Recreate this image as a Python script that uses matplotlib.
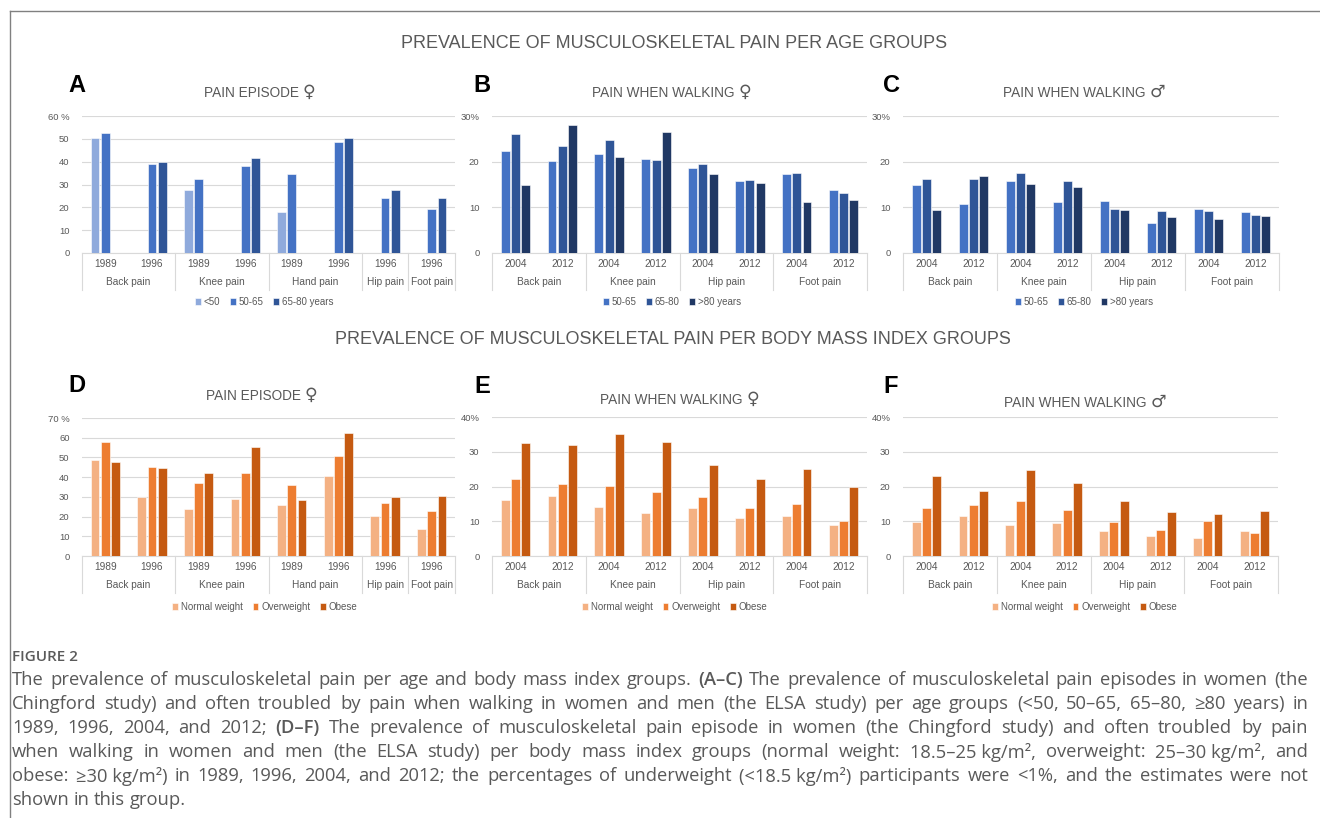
import numpy as np
import matplotlib
matplotlib.use('Agg')
import matplotlib.pyplot as plt
from matplotlib.lines import Line2D

plt.rcParams['font.family'] = ['Liberation Sans', 'DejaVu Sans']

nan = np.nan
W, H = 1320, 818

# ---- data (percent) ----
years_ad = ['1989', '1996', '1989', '1996', '1989', '1996', '1996', '1996']
groups_ad = [('Back pain', 2), ('Knee pain', 2), ('Hand pain', 2), ('Hip pain', 1), ('Foot pain', 1)]
years_bc = ['2004', '2012', '2004', '2012', '2004', '2012', '2004', '2012']
groups_bc = [('Back pain', 2), ('Knee pain', 2), ('Hip pain', 2), ('Foot pain', 2)]

age_a = ['<50', '50-65', '65-80 years']
a_lt50 = [50.2, nan, 27.5, nan, 18.1, nan, nan, nan]
a_50_65 = [52.4, 38.8, 32.2, 38.3, 34.7, 48.7, 24.0, 19.3]
a_65_80 = [nan, 39.8, nan, 41.4, nan, 50.2, 27.8, 24.0]

age_bc = ['50-65', '65-80', '>80 years']
b_50_65 = [22.3, 20.1, 21.6, 20.6, 18.6, 15.8, 17.3, 13.8]
b_65_80 = [26.0, 23.5, 24.8, 20.3, 19.4, 15.9, 17.6, 13.1]
b_80 = [14.8, 28.0, 21.0, 26.6, 17.3, 15.4, 11.1, 11.6]

c_50_65 = [15.0, 10.7, 15.7, 11.2, 11.4, 6.6, 9.7, 8.9]
c_65_80 = [16.2, 16.1, 17.6, 15.7, 9.7, 9.3, 9.3, 8.4]
c_80 = [9.5, 16.8, 15.1, 14.5, 9.4, 7.9, 7.5, 8.2]

bmi = ['Normal weight', 'Overweight', 'Obese']
d_norm = [48.6, 29.8, 23.6, 28.8, 25.8, 40.8, 20.5, 13.6]
d_over = [58.0, 45.1, 36.9, 42.0, 35.9, 50.5, 26.8, 22.9]
d_obese = [47.6, 44.7, 41.9, 55.3, 28.5, 62.5, 29.8, 30.3]

e_norm = [16.1, 17.3, 14.0, 12.5, 13.7, 10.8, 11.6, 8.8]
e_over = [22.1, 20.7, 20.1, 18.4, 17.0, 13.8, 15.1, 10.1]
e_obese = [32.4, 32.0, 35.2, 32.7, 26.3, 22.1, 25.1, 20.0]

f_norm = [9.8, 11.4, 8.8, 9.5, 7.3, 5.7, 5.1, 7.2]
f_over = [13.8, 14.6, 15.7, 13.3, 9.7, 7.5, 10.1, 6.5]
f_obese = [23.1, 18.8, 24.8, 21.0, 15.9, 12.6, 12.0, 12.9]

blues_a = ['#8faadc', '#4472c4', '#2f5597']
blues_bc = ['#4472c4', '#2f5597', '#203864']
oranges = ['#f4b183', '#ed7d31', '#c55a11']

TXT = '#595959'
GRID = '#d9d9d9'

fig = plt.figure(figsize=(W / 100, H / 100), dpi=100)
renderer = fig.canvas.get_renderer()


def fx(px):
    return px / W


def fy(py):
    return 1 - py / H


def title_with_symbol(cx, cy, text, sym):
    # text in Arial-like font, gender sign larger in DejaVu
    t = fig.text(0, fy(cy), text + ' ', fontsize=9.8, ha='left', va='center', color=TXT)
    s = fig.text(0, fy(cy - 1), sym, fontsize=12.5, family='DejaVu Sans',
                 ha='left', va='center', color=TXT)
    wt = t.get_window_extent(renderer).width
    ws = s.get_window_extent(renderer).width
    left = cx - (wt + ws) / 2
    t.set_x(fx(left))
    s.set_x(fx(left + wt))


def panel(box, series, names, colors, years, groups, ymax, top_label,
          letter, letter_xy, title, sym, title_xy, legend_xy):
    l, t, r, b = box
    ax = fig.add_axes([fx(l), fy(b), (r - l) / W, (b - t) / H])
    hpx = b - t
    x = np.arange(len(years))
    bars = []
    for k, (vals, col) in enumerate(zip(series, colors)):
        bars.append(ax.bar(x + (k - 1) * 0.22, vals, width=0.19, color=col,
                           edgecolor='white', linewidth=0.4, zorder=3))
    ax.set_xlim(-0.5, len(years) - 0.5)
    ax.set_ylim(0, ymax)
    ticks = list(range(0, ymax + 1, 10))
    ax.set_yticks(ticks)
    ax.set_yticklabels([str(v) for v in ticks[:-1]] + [top_label])
    ax.tick_params(axis='y', length=0, pad=9, labelsize=6.8, labelcolor=TXT)
    ax.set_xticks([])
    ax.yaxis.grid(True, color=GRID, linewidth=0.8, zorder=0)
    for s in ['top', 'right', 'left']:
        ax.spines[s].set_visible(False)
    ax.spines['bottom'].set_color(GRID)
    ax.spines['bottom'].set_linewidth(0.8)

    tr = ax.get_xaxis_transform()
    for i, yr in enumerate(years):
        ax.text(i, -11 / hpx, yr, transform=tr, ha='center', va='center',
                fontsize=7.3, color=TXT)
    pos = -0.5
    ax.plot([pos, pos], [0, -37 / hpx], transform=tr, clip_on=False,
            color=GRID, lw=0.8)
    for name, n in groups:
        ax.text(pos + n / 2, -29 / hpx, name, transform=tr, ha='center',
                va='center', fontsize=7.3, color=TXT)
        pos += n
        ax.plot([pos, pos], [0, -37 / hpx], transform=tr, clip_on=False,
                color=GRID, lw=0.8)

    fig.text(fx(letter_xy[0]), fy(letter_xy[1]), letter, fontsize=17,
             fontweight='bold', ha='center', va='center', color='black')
    title_with_symbol(title_xy[0], title_xy[1], title, sym)
    fig.legend(bars, names, loc='center', bbox_to_anchor=(fx(legend_xy[0]), fy(legend_xy[1])),
               ncol=3, frameon=False, fontsize=7, labelcolor=TXT,
               handlelength=0.6, handleheight=0.6, handletextpad=0.3,
               columnspacing=1.0, borderpad=0)
    return ax


panel((82, 116, 455, 253), [a_lt50, a_50_65, a_65_80], age_a, blues_a,
      years_ad, groups_ad, 60, '60 %', 'A', (77, 85), 'PAIN EPISODE', '\u2640', (260, 93), (264, 302))
panel((492, 116, 867, 253), [b_50_65, b_65_80, b_80], age_bc, blues_bc,
      years_bc, groups_bc, 30, '30%', 'B', (482, 85), 'PAIN WHEN WALKING', '\u2640', (672, 93), (672, 302))
panel((903, 116, 1279, 253), [c_50_65, c_65_80, c_80], age_bc, blues_bc,
      years_bc, groups_bc, 30, '30%', 'C', (891, 85), 'PAIN WHEN WALKING', '\u2642', (1084, 93), (1084, 302))
panel((82, 418, 455, 556), [d_norm, d_over, d_obese], bmi, oranges,
      years_ad, groups_ad, 70, '70 %', 'D', (77, 385), 'PAIN EPISODE', '\u2640', (262, 396), (265, 607))
panel((492, 417, 867, 556), [e_norm, e_over, e_obese], bmi, oranges,
      years_bc, groups_bc, 40, '40%', 'E', (482, 387), 'PAIN WHEN WALKING', '\u2640', (680, 400), (675, 607))
panel((903, 417, 1278, 556), [f_norm, f_over, f_obese], bmi, oranges,
      years_bc, groups_bc, 40, '40%', 'F', (891, 387), 'PAIN WHEN WALKING', '\u2642', (1085, 403), (1085, 607))

fig.text(fx(674), fy(44), 'PREVALENCE OF MUSCULOSKELETAL PAIN PER AGE GROUPS',
         fontsize=13, ha='center', va='center', color=TXT)
fig.text(fx(673), fy(339), 'PREVALENCE OF MUSCULOSKELETAL PAIN PER BODY MASS INDEX GROUPS',
         fontsize=13, ha='center', va='center', color=TXT)

# frame lines
fig.add_artist(Line2D([fx(9.5), fx(9.5)], [fy(10.5), 0], color='#808080', lw=1))
fig.add_artist(Line2D([fx(9.5), 1], [fy(10.5), fy(10.5)], color='#808080', lw=1))

# caption
cap_font = ['Open Sans', 'DejaVu Sans']
fig.text(fx(12), fy(657), 'FIGURE 2', fontsize=11, family=cap_font,
         fontweight='semibold', color='#5a5a5a', va='center', ha='left')

caption = [
    'The prevalence of musculoskeletal pain per age and body mass index groups. (A\u2013C) The prevalence of musculoskeletal pain episodes in women (the',
    'Chingford study) and often troubled by pain when walking in women and men (the ELSA study) per age groups (<50, 50\u201365, 65\u201380, \u226580 years) in',
    '1989, 1996, 2004, and 2012; (D\u2013F) The prevalence of musculoskeletal pain episode in women (the Chingford study) and often troubled by pain',
    'when walking in women and men (the ELSA study) per body mass index groups (normal weight: 18.5\u201325\u00a0kg/m\u00b2, overweight: 25\u201330\u00a0kg/m\u00b2, and',
    'obese: \u226530\u00a0kg/m\u00b2) in 1989, 1996, 2004, and 2012; the percentages of underweight (<18.5\u00a0kg/m\u00b2) participants were <1%, and the estimates were not',
    'shown in this group.',
]
x0, x1 = 12, 1308
for j, line in enumerate(caption):
    y = 680 + j * 24
    words = line.split(' ')
    objs = []
    for w in words:
        bold = ('A\u2013C' in w) or ('D\u2013F' in w)
        objs.append(fig.text(0, fy(y), w, fontsize=13.2, family=cap_font,
                             fontweight='semibold' if bold else 'normal',
                             color='#595959', va='center', ha='left'))
    widths = [o.get_window_extent(renderer).width for o in objs]
    if j < len(caption) - 1:
        gap = (x1 - x0 - sum(widths)) / (len(words) - 1)
    else:
        gap = objs[0].get_fontsize() * 0.26 * 100 / 72
    xp = x0
    for o, wd in zip(objs, widths):
        o.set_x(fx(xp))
        xp += wd + gap

fig.savefig('out.png', dpi=100)
